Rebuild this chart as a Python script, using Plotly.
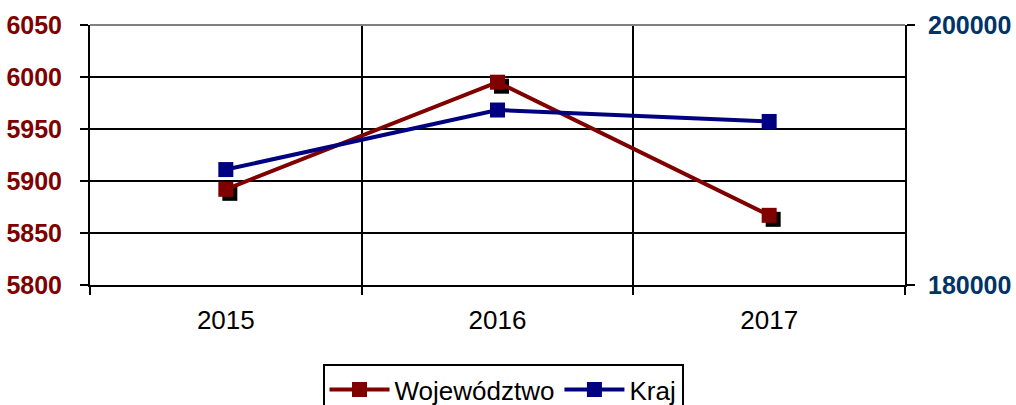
import plotly.graph_objects as go

years = ["2015", "2016", "2017"]
wojewodztwo = [5892, 5995, 5867]
kraj = [188880, 193460, 192580]
left_ticks = [5800, 5850, 5900, 5950, 6000, 6050]
right_ticks = [180000, 200000]
right_labels = ["180000", "200000"]

RED = "#800000"
BLUE = "#000080"
FONT = "Liberation Sans, Arial, sans-serif"

W, H = 1016, 405
ml, mt = 90, 25
mr = W - 905
mb = H - 285
pw = W - ml - mr
ph = H - mt - mb
sx = 4 * 3 / pw          # shadow shift in category units
sy = 4 * 250 / ph        # shadow shift in left-axis units

fig = go.Figure()

# shadow of Województwo markers (main, hidden axes -> drawn underneath)
fig.add_trace(go.Scatter(
    x=years, y=wojewodztwo, mode="markers", xaxis="x", yaxis="y",
    marker=dict(symbol="square", size=15, color="black"),
    showlegend=False, hoverinfo="skip"))

fig.add_trace(go.Scatter(
    x=years, y=wojewodztwo, name="Województwo", mode="lines+markers",
    xaxis="x2", yaxis="y2",
    line=dict(color=RED, width=4),
    marker=dict(symbol="square", size=15, color=RED)))

fig.add_trace(go.Scatter(
    x=years, y=kraj, name="Kraj", mode="lines+markers",
    xaxis="x2", yaxis="y3",
    line=dict(color=BLUE, width=4),
    marker=dict(symbol="square", size=15, color=BLUE)))

fig.update_layout(
    width=W, height=H,
    margin=dict(l=ml, r=mr, t=mt, b=mb, autoexpand=False),
    paper_bgcolor="white", plot_bgcolor="white",
    font=dict(family=FONT, size=25, color="black"),
    xaxis=dict(type="category", range=[-0.5 - sx, 2.5 - sx], visible=False,
               automargin=False),
    yaxis=dict(range=[5800 + sy, 6050 + sy], visible=False, automargin=False),
    xaxis2=dict(
        type="category", overlaying="x", range=[-0.5, 2.5], tickson="boundaries",
        showgrid=True, gridcolor="black", gridwidth=2,
        showline=True, linecolor="black", linewidth=2,
        ticks="outside", ticklen=8, tickwidth=2, tickcolor="black",
        tickfont=dict(size=26, color="black", family=FONT),
        ticklabelstandoff=11, zeroline=False, automargin=False, anchor="y2"),
    yaxis2=dict(
        range=[5800, 6050], tickvals=left_ticks, overlaying="y", side="left",
        showgrid=True, gridcolor="black", gridwidth=2,
        showline=True, linecolor="black", linewidth=2,
        ticks="outside", ticklen=8, tickwidth=2, tickcolor="black",
        tickfont=dict(size=25, color=RED, family=FONT, weight="bold"),
        ticklabelstandoff=13, zeroline=False, automargin=False, anchor="x2"),
    yaxis3=dict(
        range=[180000, 200000], tickvals=right_ticks, ticktext=right_labels,
        overlaying="y", side="right", showgrid=False,
        showline=True, linecolor="black", linewidth=2,
        ticks="outside", ticklen=8, tickwidth=2, tickcolor="black",
        tickfont=dict(size=25, color="#003366", family=FONT, weight="bold"),
        ticklabelstandoff=8, zeroline=False, automargin=False, anchor="x2"),
    legend=dict(
        orientation="h", x=(503 - 90) / 815, xanchor="center", xref="paper",
        y=(H - 364) / H, yanchor="top", yref="container",
        bordercolor="black", borderwidth=2, bgcolor="white",
        font=dict(size=26, family=FONT, color="black"),
        itemwidth=60, tracegroupgap=0),
    shapes=[dict(type="line", xref="paper", yref="paper", x0=0, x1=1, y0=1, y1=1,
                 line=dict(color="#808080", width=2))],
    showlegend=True,
)

fig.write_html(
    "out.html",
    config={"displayModeBar": False},
    post_script="document.body.style.margin='0';document.body.style.overflow='hidden';",
)
